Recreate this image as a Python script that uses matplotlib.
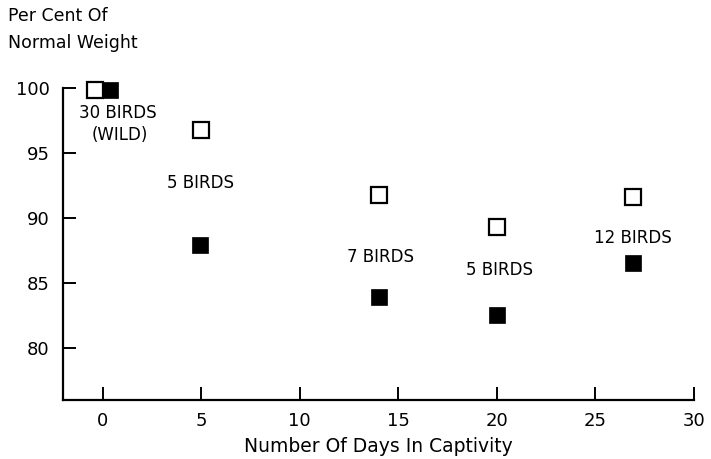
import matplotlib
matplotlib.use("Agg")
import matplotlib.pyplot as plt

# Data
days_open = [-0.4, 5, 14, 20, 26.9]
weight_open = [99.9, 96.8, 91.8, 89.3, 91.6]
days_filled = [0.35, 4.95, 14, 20, 26.9]
weight_filled = [99.9, 87.95, 83.9, 82.55, 86.55]

label_texts = ["30 BIRDS", "(WILD)", "5 BIRDS", "7 BIRDS", "5 BIRDS", "12 BIRDS"]
label_x = [0.75, 0.85, 4.95, 14.1, 20.15, 26.9]
label_y = [98.1, 96.4, 92.7, 87.0, 86.0, 88.5]

xticks = [0, 5, 10, 15, 20, 25, 30]
yticks = [80, 85, 90, 95, 100]

plt.rcParams['font.family'] = ['DejaVu Sans']

fig = plt.figure(figsize=(7.11, 4.59), dpi=100)
ax = fig.add_axes([63.3 / 711, 1 - 400 / 459, (694 - 63.3) / 711, (400 - 75.3) / 459])

ax.plot(days_open, weight_open, linestyle='none', marker='s', markersize=11,
        markerfacecolor='white', markeredgecolor='black', markeredgewidth=1.6,
        clip_on=False, zorder=3)
ax.plot(days_filled, weight_filled, linestyle='none', marker='s', markersize=11.5,
        markerfacecolor='black', markeredgecolor='black', markeredgewidth=0.5,
        clip_on=False, zorder=3)

for t, x, y in zip(label_texts, label_x, label_y):
    ax.text(x, y, t, ha='center', va='center', fontsize=12)

ax.set_xlim(-2, 30)
ax.set_ylim(76, 101)
ax.spines['top'].set_visible(False)
ax.spines['right'].set_visible(False)
ax.spines['left'].set_bounds(76, 100)
ax.spines['bottom'].set_bounds(-2, 30)
for s in ['left', 'bottom']:
    ax.spines[s].set_linewidth(1.6)

ax.set_xticks(xticks)
ax.set_yticks(yticks)
ax.set_xticklabels([str(v) for v in xticks])
ax.set_yticklabels([str(v) for v in yticks])
ax.tick_params(axis='both', direction='in', length=9.5, width=1.4, labelsize=13)
ax.tick_params(axis='y', pad=10)
ax.tick_params(axis='x', pad=9)

ax.set_xlabel("Number Of Days In Captivity", fontsize=13.5, labelpad=5)

fig.text(8 / 711, 1 - 20.7 / 459, "Per Cent Of", fontsize=12.5, ha='left', va='baseline')
fig.text(8 / 711, 1 - 48 / 459, "Normal Weight", fontsize=12.5, ha='left', va='baseline')

fig.savefig("out.png", dpi=100)
